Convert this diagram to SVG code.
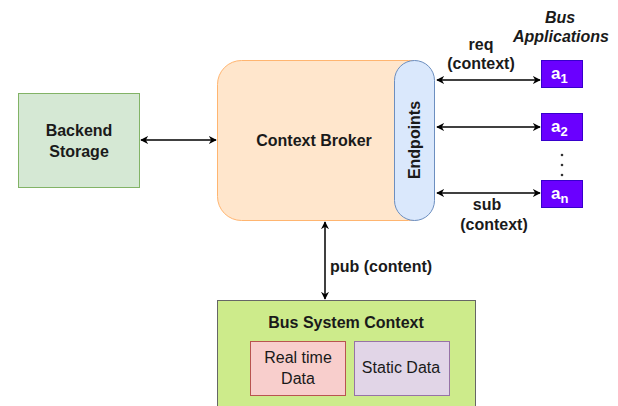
<svg xmlns="http://www.w3.org/2000/svg" width="618" height="406" viewBox="0 0 618 406">
<style>
text{font-family:"Liberation Sans",Arial,sans-serif;font-size:16px;fill:#1a1a1a}
.b{font-weight:bold}
.c{text-anchor:middle}
.ln{stroke:#000;stroke-width:1.5;fill:none}
.app rect{fill:#6a00ff;stroke:#3700cc}
.app text{fill:#fff;font-weight:bold;font-size:17px}
</style>
<defs>
<marker id="ah" viewBox="0 0 10 10" refX="9" refY="5" markerWidth="8" markerHeight="8" orient="auto-start-reverse" markerUnits="userSpaceOnUse">
<path d="M0,0 L10,5 L0,10 L3,5 Z" fill="#000"/>
</marker>
</defs>
<rect width="618" height="406" fill="#fff"/>
<g id="backend">
<rect x="18.5" y="93.5" width="121" height="94" fill="#d5e8d4" stroke="#82b366"/>
<text class="b c" x="79" y="136">Backend</text>
<text class="b c" x="79" y="157">Storage</text>
</g>
<g id="broker">
<rect x="217.5" y="60.5" width="215" height="160" rx="24" fill="#ffe6cc" stroke="#ffb570"/>
<text class="b c" x="314" y="146">Context Broker</text>
</g>
<g id="endpoints">
<rect x="394.5" y="60.5" width="40" height="160" rx="20" fill="#dae8fc" stroke="#6c8ebf"/>
<text class="b c" transform="translate(420,140) rotate(-90)">Endpoints</text>
</g>
<g id="a1" class="app">
<rect x="541.5" y="60.5" width="41" height="27"/>
<text x="551" y="79">a<tspan font-size="13" dy="4">1</tspan></text>
</g>
<g id="a2" class="app">
<rect x="541.5" y="113.5" width="41" height="27"/>
<text x="551" y="132">a<tspan font-size="13" dy="4">2</tspan></text>
</g>
<g id="an" class="app">
<rect x="541.5" y="180.5" width="41" height="27"/>
<text x="551" y="199">a<tspan font-size="13" dy="4">n</tspan></text>
</g>
<g id="dots" fill="#333">
<circle cx="562" cy="155" r="1.3"/>
<circle cx="562" cy="165" r="1.3"/>
<circle cx="562" cy="175" r="1.3"/>
</g>
<g id="busapps">
<text class="b c" x="560" y="23" font-style="italic">Bus</text>
<text class="b c" x="561" y="42" font-style="italic">Applications</text>
</g>
<g id="context">
<rect x="217.5" y="300.5" width="258" height="120" fill="#cdeb8b" stroke="#666"/>
<text class="b c" x="346" y="328">Bus System Context</text>
</g>
<g id="realtime">
<rect x="250.5" y="341.5" width="95" height="54" fill="#f8cecc" stroke="#b85450"/>
<text class="c" x="298" y="363">Real time</text>
<text class="c" x="298" y="384">Data</text>
</g>
<g id="static">
<rect x="354.5" y="341.5" width="95" height="54" fill="#e1d5e7" stroke="#9673a6"/>
<text class="c" x="401" y="373">Static Data</text>
</g>
<g id="connectors">
<line class="ln" x1="141" y1="140" x2="216" y2="140" marker-start="url(#ah)" marker-end="url(#ah)"/>
<line class="ln" x1="437" y1="80" x2="540" y2="80" marker-start="url(#ah)" marker-end="url(#ah)"/>
<line class="ln" x1="437" y1="127" x2="540" y2="127" marker-start="url(#ah)" marker-end="url(#ah)"/>
<line class="ln" x1="437" y1="193" x2="540" y2="193" marker-start="url(#ah)" marker-end="url(#ah)"/>
<line class="ln" x1="325" y1="222" x2="325" y2="299" marker-start="url(#ah)" marker-end="url(#ah)"/>
<text class="b c" x="481" y="50">req</text>
<text class="b c" x="481" y="69">(context)</text>
<text class="b c" x="487" y="210">sub</text>
<text class="b c" x="494" y="230">(context)</text>
<text class="b" x="330" y="272">pub (content)</text>
</g>
</svg>
